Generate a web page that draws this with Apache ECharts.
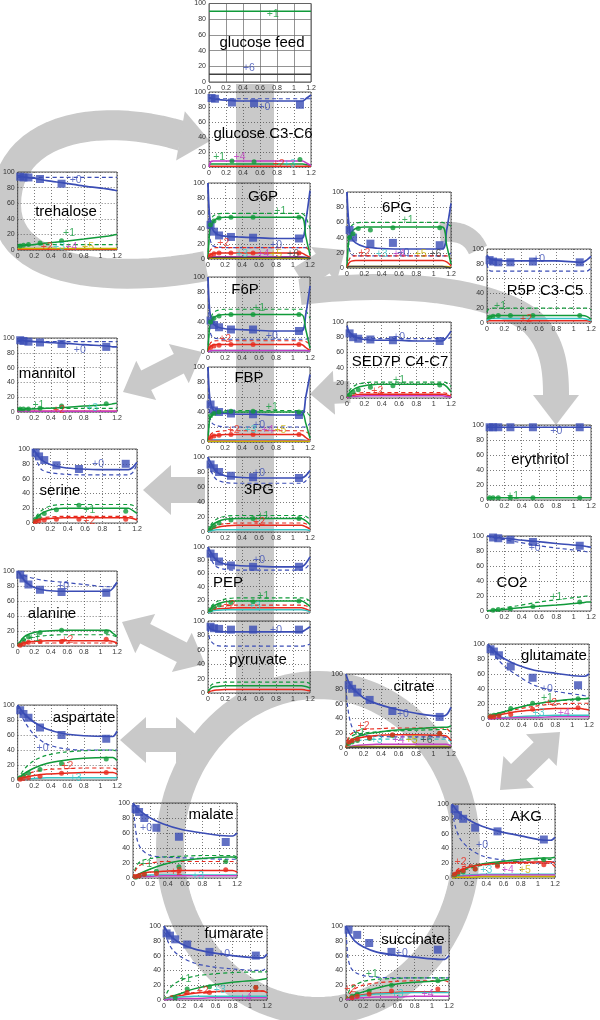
<!DOCTYPE html>
<html><head><meta charset="utf-8">
<script src="https://cdn.jsdelivr.net/npm/echarts@6/dist/echarts.min.js"></script>
<style>html,body{margin:0;padding:0;background:#fff}#c{width:600px;height:1020px}</style>
</head><body><div id="c"></div><script>
// shared x positions of model curves and measured points (hours)
const LX = [0,0.02,0.05,0.1,0.2,0.35,0.55,0.8,1.1,1.15,1.2];
const PX = [0.03,0.07,0.13,0.27,0.53,1.07];
const X_TICKS = [0,0.2,0.4,0.6,0.8,1,1.2];
const Y_TICKS = [0,20,40,60,80,100];
const COLORS = ['#3b4db5','#109a3a','#e8291c','#38c4c4','#c33cc3','#c8b000','#404040'];
const N = null;

// ---- glucose feed
const GF_solid = [N,[90,90,90,90,90,90,90,90,90,90,90],N,N,N,N,[10,10,10,10,10,10,10,10,10,10,10]];
const GF_dash = [];
const GF_pts = [];
const GF_labels = [[0.75,86,'+1',1],[0.47,18,'+6',0]];
// ---- glucose C3-C6
const GC_solid = [[93,92,91,90,89,88,88,88,88,92,96],[3,4,4,4,4,4,4,4,4,3,2],[1,1,1,1,1,1,1,1,1,1,1],N,[0,7,8,8,8,8,8,8,8,5,2]];
const GC_dash = [[91,91,91,91,91,91,91,91,91,91,91]];
const GC_pts = [[92,91,N,86,85,83],[N,N,N,8,7,10]];
const GC_labels = [[0.65,80,'+0',0],[0.12,13,'+1',1],[0.36,13,'+4',4],[0.82,4,'+2',2],[0.95,4,'+3',3]];
// ---- G6P
const G6P_solid = [[100,55,40,33,30,29,28,27,27,50,90],[0,35,47,53,55,55,55,55,55,30,5],[0,5,7,8,8,8,8,8,8,5,2],[0,2,3,3,3,3,3,3,3,2,1],[0,2,3,3,3,3,3,3,3,2,1],[0,1,1,1,1,1,1,1,1,1,1],[0,2,2,2,2,2,2,2,2,2,1]];
const G6P_dash = [[100,30,18,16,15,15,15,15,15,15,20],[0,40,55,59,60,60,60,60,60,55,40],[0,10,14,15,15,15,15,15,15,15,10]];
const G6P_pts = [[45,36,31,29,28,27],[45,50,54,55,55,55],[5,7,8,8,8,8]];
const G6P_labels = [[0.85,63,'+1',1],[0.8,18,'+0',0],[0.18,21,'+2',2],[0.4,6,'+3',3],[0.65,6,'+4',4],[0.8,6,'+5',5],[1.0,6,'+6',6]];
// ---- trehalose
const TR_solid = [[95,95,94,93,92,89,86,82,78,77,76],[5,5,6,6,7,9,11,14,18,19,20],[1,1,1,1,1,1,1,1,1,1,1],N,N,[2,2,2,2,2,2,2,2,2,2,2]];
const TR_dash = [[93,93,93,93,93,93,93,93,93,93,93],[7,7,7,7,7,7,7,7,7,7,7]];
const TR_pts = [[94,93,93,91,85,N],[5,6,7,9,12,N]];
const TR_labels = [[0.7,90,'+0',0],[0.62,22,'+1',1],[0.35,4,'+2',2],[0.5,4,'+3',3],[0.65,4,'+4',4],[0.85,4,'+5',5]];
// ---- 6PG
const PG6_solid = [[100,60,40,33,28,26,25,25,25,50,85],[0,35,47,52,54,54,54,54,54,30,5],[0,6,9,10,10,10,10,10,10,8,3],N,N,[0,2,2,2,2,2,2,2,2,2,1],[0,2,2,2,2,2,2,2,2,1,0]];
const PG6_dash = [[100,30,18,16,16,16,16,16,16,16,20],[0,45,55,59,60,60,60,60,60,58,55],[0,10,15,16,16,16,16,16,16,16,12]];
const PG6_pts = [[50,40,N,32,33,30],[40,45,52,50,53,53]];
const PG6_labels = [[0.7,63,'+1',1],[0.65,19,'+0',0],[0.2,20,'+2',2],[0.4,18,'+3',3],[0.6,18,'+4',4],[0.85,18,'+5',5],[1.02,18,'+6',6]];
// ---- R5P C3-C5
const R5P_solid = [[92,88,86,85,84,84,84,84,82,85,90],[5,8,9,10,10,10,10,10,10,9,5],[2,3,3,3,3,3,3,3,3,3,2],[3,5,6,6,6,6,6,6,6,5,3]];
const R5P_dash = [[80,72,70,70,70,70,70,70,70,70,74],[15,19,20,20,20,20,20,20,20,20,18]];
const R5P_pts = [[85,83,82,82,83,82],[8,9,10,10,10,10]];
const R5P_labels = [[0.6,86,'+0',0],[0.15,23,'+1',1],[0.45,5,'+2',2]];
// ---- F6P
const F6P_solid = [[100,55,40,34,31,30,29,28,28,50,88],[0,33,44,48,50,50,50,50,50,30,5],[0,6,9,10,10,10,10,10,10,6,2],[0,1,2,2,2,2,2,2,2,2,1],[0,1,2,2,2,2,2,2,2,2,1]];
const F6P_dash = [[100,30,20,18,17,17,17,17,17,17,20],[0,38,50,55,57,57,57,57,57,55,45],[0,10,14,15,15,15,15,15,15,14,10]];
const F6P_pts = [[42,36,33,30,30,28],[40,45,48,50,50,50],[6,8,9,10,10,10]];
const F6P_labels = [[0.6,58,'+1',1],[0.75,21,'+0',0],[0.2,17,'+2',2]];
// ---- SED7P C4-C7
const SED_solid = [[95,88,84,80,77,76,76,75,75,80,88],[0,5,9,13,16,18,18,18,18,15,8],[0,2,3,4,5,5,5,5,5,4,2],N,[0,1,2,2,3,3,3,3,3,2,1]];
const SED_dash = [[90,85,82,80,79,78,78,78,78,78,80],[0,8,13,17,20,21,21,21,21,20,15],[0,3,5,6,7,7,7,7,7,6,4]];
const SED_pts = [[85,80,78,77,76,75],[4,8,11,14,16,17]];
const SED_labels = [[0.6,80,'+0',0],[0.6,24,'+1',1],[0.35,9,'+2',2]];
// ---- mannitol
const MAN_solid = [[97,97,97,96,95,94,93,91,89,88,88],[3,3,3,4,4,5,6,8,10,11,12],[1,1,1,1,1,1,1,1,1,1,1],N,[1,1,1,1,1,1,1,1,1,1,1]];
const MAN_dash = [[95,95,95,95,95,95,95,95,95,95,95],[5,5,5,5,5,5,5,5,5,5,5]];
const MAN_pts = [[97,96,95,94,92,88],[4,4,4,5,8,11]];
const MAN_labels = [[0.75,83,'+0',0],[0.25,9,'+1',1],[0.5,2,'+2',2],[0.9,5,'+3',3]];
// ---- FBP
const FBP_solid = [[100,60,45,40,38,37,37,36,36,60,90],[0,30,36,38,40,40,40,40,40,25,5],[0,5,8,9,10,10,10,10,10,6,2],[0,2,3,3,3,3,3,3,3,2,1],[0,1,2,2,2,2,2,2,2,2,1],[0,1,1,1,1,1,1,1,1,1,1]];
const FBP_dash = [[100,35,25,22,20,20,20,20,20,20,25],[0,32,38,41,42,42,42,42,42,40,35],[0,8,12,14,15,15,15,15,15,14,10]];
const FBP_pts = [[50,42,40,38,37,36],[35,38,40,41,41,40],[6,8,9,10,10,10]];
const FBP_labels = [[0.75,46,'+1',1],[0.6,23,'+0',0],[0.3,16,'+2',2],[0.5,16,'+3',3],[0.7,16,'+4',4],[0.85,16,'+5',5]];
// ---- erythritol
const ERY_solid = [[98,97,97,97,97,97,97,97,97,97,97],[2,3,3,3,3,3,3,3,3,3,3]];
const ERY_dash = [[97,97,97,97,97,97,97,97,97,97,97]];
const ERY_pts = [[97,97,97,97,97,97],[3,3,3,3,3,3]];
const ERY_labels = [[0.8,92,'+0',0],[0.3,5,'+1',1]];
// ---- serine
const SER_solid = [[100,97,92,85,79,75,73,72,72,75,82],[0,3,8,13,18,20,20,20,20,17,13],[0,1,3,5,6,7,7,7,7,6,4]];
const SER_dash = [[100,90,82,72,68,66,65,65,65,68,80],[0,5,11,17,23,25,25,25,25,24,20],[0,2,4,7,8,9,9,9,9,8,6]];
const SER_pts = [[95,90,85,78,73,80],[5,8,13,18,24,16],[2,3,4,5,5,5]];
const SER_labels = [[0.75,80,'+0',0],[0.65,17,'+1',1],[0.65,3,'+2',2]];
// ---- 3PG
const PG3_solid = [[100,95,88,80,75,73,72,72,72,75,82],[0,4,9,13,17,18,18,18,18,15,10],[0,2,4,6,8,9,9,9,9,7,4],[0,1,2,3,3,3,3,3,3,3,2]];
const PG3_dash = [[100,88,78,70,66,65,65,65,65,68,75],[0,6,12,17,21,22,22,22,22,21,17],[0,3,6,9,11,12,12,12,12,11,8]];
const PG3_pts = [[90,85,80,75,73,72],[5,8,12,16,18,18]];
const PG3_labels = [[0.6,78,'+0',0],[0.65,21,'+1',1],[0.6,13,'+2',2]];
// ---- CO2
const CO2_solid = [[100,100,99,98,97,95,93,90,87,86,85],[0,0,1,1,2,4,6,8,11,12,12]];
const CO2_dash = [[100,99,98,97,95,92,88,84,80,79,78],[0,1,1,2,4,7,11,15,19,20,20]];
const CO2_pts = [[N,98,97,95,92,87],[N,1,2,3,6,12]];
const CO2_labels = [[0.55,84,'+0',0],[0.8,18,'+1',1]];
// ---- PEP
const PEP_solid = [[100,95,88,80,74,72,71,70,70,75,85],[0,4,9,13,17,18,18,18,18,15,10],[0,2,4,6,7,8,8,8,8,6,3],[0,1,3,4,5,5,5,5,5,4,2]];
const PEP_dash = [[100,88,78,70,66,65,65,65,65,68,75],[0,6,12,17,21,23,23,23,23,22,18],[0,3,6,9,11,12,12,12,12,11,8]];
const PEP_pts = [[90,85,78,72,70,70],[5,9,12,16,17,18]];
const PEP_labels = [[0.6,80,'+0',0],[0.65,25,'+1',1],[0.25,12,'+2',2],[0.55,10,'+3',3]];
// ---- pyruvate
const PYR_solid = [[95,90,88,86,85,85,85,85,85,88,92],[0,5,8,9,10,10,10,10,10,9,7],[0,2,3,4,5,5,5,5,5,4,3]];
const PYR_dash = [[90,75,70,66,65,65,65,65,65,66,68],[0,8,12,14,15,15,15,15,15,15,13]];
const PYR_pts = [[92,90,89,88,88,88]];
const PYR_labels = [[0.8,88,'+0',0]];
// ---- alanine
const ALA_solid = [[100,97,92,85,78,74,73,73,73,77,85],[0,4,9,14,18,20,21,21,21,17,13],[0,2,3,5,6,7,7,7,7,6,4]];
const ALA_dash = [[100,98,96,93,90,87,85,82,79,79,85],[0,3,6,9,12,14,15,15,15,14,12],[0,1,2,3,4,4,4,4,4,4,3]];
const ALA_pts = [[95,90,82,75,72,71],[3,8,12,18,21,19],[1,3,5,6,6,9]];
const ALA_labels = [[0.55,80,'+0',0],[0.2,10,'+1',1],[0.6,8,'+2',2]];
// ---- citrate
const CIT_solid = [[100,92,85,78,68,60,53,47,43,45,55],[0,6,10,14,18,21,24,26,28,28,30],[0,5,8,12,15,17,18,18,17,16,10],N,[0,1,2,3,4,5,5,5,5,5,3],[0,1,1,2,2,2,2,2,2,2,1],[0,0,1,1,1,1,1,1,1,1,1]];
const CIT_dash = [[80,55,35,22,17,16,15,15,15,14,10],[0,10,15,18,20,22,23,24,25,25,22],[0,12,18,22,25,26,27,27,27,26,20],[0,3,6,9,11,12,12,12,12,12,8]];
const CIT_pts = [[85,80,75,65,50,42],[6,8,10,13,17,20],[8,10,12,14,18,20]];
const CIT_labels = [[0.65,46,'+0',0],[0.15,20,'+1',1],[0.2,29,'+2',2],[0.35,10,'+3',3],[0.6,10,'+4',4],[0.75,10,'+5',5],[0.92,10,'+6',6]];
// ---- glutamate
const GLU_solid = [[100,97,94,88,80,72,65,61,57,57,60],[3,4,5,7,10,15,20,24,27,27,28],[2,3,3,5,7,10,12,14,14,13,12],[0,1,1,1,2,3,4,5,5,5,5],[0,0,0,1,1,2,2,3,3,3,3]];
const GLU_dash = [[100,96,90,82,70,58,45,37,32,31,30],[3,4,5,7,10,15,20,24,26,27,27],[2,3,4,6,9,13,17,20,21,21,21]];
const GLU_pts = [[93,90,85,70,55,45],[4,5,6,14,21,27],[3,3,4,6,13,15]];
const GLU_labels = [[0.7,40,'+0',0],[0.7,28,'+1',1],[0.75,21,'+2',2],[0.6,8,'+3',3],[0.9,8,'+4',4]];
// ---- aspartate
const ASP_solid = [[100,97,92,86,77,68,62,59,58,58,65],[0,3,6,10,16,22,26,29,30,30,26],[0,1,2,4,6,8,9,10,10,10,8],[0,0,1,1,2,3,3,3,3,3,3]];
const ASP_dash = [[100,92,85,75,60,48,42,40,40,40,40],[0,5,10,17,26,33,37,39,40,40,38],[0,2,4,7,11,14,15,16,16,16,14]];
const ASP_pts = [[93,88,83,70,60,55],[3,6,9,14,22,28],[1,2,3,5,9,10]];
const ASP_labels = [[0.3,43,'+0',0],[0.6,18,'+2',2],[0.7,2,'+3',3]];
// ---- malate
const MAL_solid = [[100,97,93,88,80,72,65,60,56,56,60],[0,2,4,7,12,18,23,26,28,28,26],[0,2,4,6,8,9,10,10,10,10,8],[0,1,2,3,4,4,4,4,4,4,4],[0,1,1,2,2,3,3,3,3,3,3]];
const MAL_dash = [[100,75,50,38,30,28,27,26,25,25,25],[0,10,18,23,26,28,29,30,30,30,28],[0,8,14,18,20,22,22,22,22,22,20]];
const MAL_pts = [[92,88,80,67,55,48],[1,3,5,9,15,22],[2,3,5,6,9,11]];
const MAL_labels = [[0.15,66,'+0',0],[0.15,18,'+1',1],[0.5,8,'+2',2],[0.75,3,'+3',3]];
// ---- AKG
const AKG_solid = [[100,97,92,86,78,70,63,57,51,51,55],[3,5,7,10,15,19,22,25,27,27,28],[2,5,8,11,15,18,20,21,22,22,20],[0,1,2,3,4,5,5,5,5,5,5],[0,1,1,2,3,4,4,4,4,4,4],[0,0,1,1,1,2,2,2,2,2,2]];
const AKG_dash = [[100,80,65,52,40,30,25,22,20,20,25],[3,5,7,9,13,17,20,23,25,25,25],[2,6,10,14,17,19,20,20,20,20,15]];
const AKG_pts = [[93,85,80,68,63,52],[4,6,8,12,18,25],[5,8,10,12,16,18]];
const AKG_labels = [[0.35,45,'+0',0],[0.1,22,'+2',2],[0.4,10,'+3',3],[0.65,10,'+4',4],[0.85,10,'+5',5]];
// ---- fumarate
const FUM_solid = [[100,96,90,84,76,69,64,60,57,57,62],[0,1,3,5,9,15,20,24,27,28,29],[0,1,2,4,6,9,11,12,12,12,10],[0,1,2,3,4,5,5,5,5,5,5],[0,0,1,1,2,2,3,3,3,3,3]];
const FUM_dash = [[100,90,78,68,58,50,45,42,40,40,45],[0,6,13,20,27,32,35,37,38,38,38],[0,2,4,6,8,10,11,12,12,12,12]];
const FUM_pts = [[90,87,82,75,65,60],[N,N,3,15,18,17],[N,N,N,10,10,17]];
const FUM_labels = [[0.7,62,'+0',0],[0.25,28,'+1',1],[0.45,12,'+2',2],[0.65,13,'+3',3],[0.95,3,'+4',4]];
// ---- succinate
const SUC_solid = [[100,95,88,80,72,65,61,58,55,55,60],[0,2,4,7,11,16,21,24,26,27,28],[0,1,3,5,7,9,10,11,11,11,10],[0,1,2,4,6,8,9,10,10,10,10],[0,1,1,2,3,4,4,5,5,5,5]];
const SUC_dash = [[100,60,45,38,33,31,30,30,30,30,30],[0,8,15,20,25,28,29,30,30,30,30],[0,5,10,15,20,23,25,26,26,26,24]];
const SUC_pts = [[95,N,88,77,65,68],[N,5,8,12,20,26],[N,3,5,8,12,15]];
const SUC_labels = [[0.65,63,'+0',0],[0.3,35,'+1',1],[0.05,15,'+2',2],[0.6,8,'+3',3],[0.95,8,'+4',4]];

// layout: [title, data..., left, top, width, height, titleX, titleY, solidGrid, hideXLabels]
const PANELS = [
 ['glucose feed', GF_solid,GF_dash,GF_pts,GF_labels, 209,3,102,79, 262,43, true],
 ['glucose C3-C6', GC_solid,GC_dash,GC_pts,GC_labels, 209,92,102,75, 263,134],
 ['G6P', G6P_solid,G6P_dash,G6P_pts,G6P_labels, 208,183,102,76, 263,197],
 ['F6P', F6P_solid,F6P_dash,F6P_pts,F6P_labels, 208,277,102,75, 245,290],
 ['FBP', FBP_solid,FBP_dash,FBP_pts,FBP_labels, 208,367,102,75, 249,378],
 ['3PG', PG3_solid,PG3_dash,PG3_pts,PG3_labels, 208,457,102,75, 259,490],
 ['PEP', PEP_solid,PEP_dash,PEP_pts,PEP_labels, 208,547,102,66, 228,583, false, true],
 ['pyruvate', PYR_solid,PYR_dash,PYR_pts,PYR_labels, 208,621,102,72, 258,660],
 ['trehalose', TR_solid,TR_dash,TR_pts,TR_labels, 13,172,104,78, 66,212],
 ['mannitol', MAN_solid,MAN_dash,MAN_pts,MAN_labels, 13,338,104,74, 47,374],
 ['serine', SER_solid,SER_dash,SER_pts,SER_labels, 33,449,104,74, 60,491],
 ['alanine', ALA_solid,ALA_dash,ALA_pts,ALA_labels, 13,571,104,75, 52,614],
 ['aspartate', ASP_solid,ASP_dash,ASP_pts,ASP_labels, 13,705,104,75, 84,718],
 ['malate', MAL_solid,MAL_dash,MAL_pts,MAL_labels, 133,803,104,75, 211,815],
 ['fumarate', FUM_solid,FUM_dash,FUM_pts,FUM_labels, 164,926,103,74, 234,934],
 ['succinate', SUC_solid,SUC_dash,SUC_pts,SUC_labels, 346,926,103,74, 413,940],
 ['citrate', CIT_solid,CIT_dash,CIT_pts,CIT_labels, 346,674,105,74, 414,687],
 ['glutamate', GLU_solid,GLU_dash,GLU_pts,GLU_labels, 488,644,101,75, 554,656],
 ['AKG', AKG_solid,AKG_dash,AKG_pts,AKG_labels, 452,804,103,74, 526,817],
 ['6PG', PG6_solid,PG6_dash,PG6_pts,PG6_labels, 347,192,104,76, 397,208],
 ['R5P C3-C5', R5P_solid,R5P_dash,R5P_pts,R5P_labels, 487,249,104,74, 545,291],
 ['SED7P C4-C7', SED_solid,SED_dash,SED_pts,SED_labels, 347,322,104,76, 400,362],
 ['erythritol', ERY_solid,ERY_dash,ERY_pts,ERY_labels, 487,425,104,75, 540,460],
 ['CO2', CO2_solid,CO2_dash,CO2_pts,CO2_labels, 487,536,104,75, 512,583]
];

const GRAY = '#c9c9c9';
const FONT = 'Liberation Sans';
const grid=[], xAxis=[], yAxis=[], series=[], graphic=[];

PANELS.forEach((p,i)=>{
  const [title,solid,dash,pts,labels,l,t,w,h,tx,ty,solidGrid,hideX] = p;
  grid.push({left:l,top:t,width:w,height:h,show:true,borderColor:'#333',borderWidth:0.8,backgroundColor:'transparent'});
  const split = {show:true,lineStyle:{color:solidGrid?'#666':'#444',width:0.7,type:solidGrid?'solid':[1,2]}};
  xAxis.push({gridIndex:i,type:'value',min:X_TICKS[0],max:X_TICKS[X_TICKS.length-1],interval:X_TICKS[1]-X_TICKS[0],
    axisLine:{show:false},axisTick:{show:false},splitLine:split,
    axisLabel:{show:!hideX,fontSize:7,color:'#333',margin:3,fontFamily:FONT,showMinLabel:true,showMaxLabel:true}});
  yAxis.push({gridIndex:i,type:'value',min:Y_TICKS[0],max:Y_TICKS[Y_TICKS.length-1],interval:Y_TICKS[1]-Y_TICKS[0],
    axisLine:{show:false},axisTick:{show:false},splitLine:split,
    axisLabel:{fontSize:7,color:'#333',margin:3,fontFamily:FONT}});
  const mk = arr => LX.map((x,j)=>[x,arr[j]]);
  (dash||[]).forEach((arr,k)=>{ if(!arr) return;
    series.push({type:'line',xAxisIndex:i,yAxisIndex:i,data:mk(arr),showSymbol:false,symbol:'none',smooth:0.3,
      lineStyle:{color:COLORS[k],width:1.2,type:[4,3]},z:2,silent:true});
  });
  (solid||[]).forEach((arr,k)=>{ if(!arr) return;
    series.push({type:'line',xAxisIndex:i,yAxisIndex:i,data:mk(arr),showSymbol:false,symbol:'none',smooth:0.3,
      lineStyle:{color:COLORS[k],width:k===0?1.7:1.5},z:3,silent:true});
  });
  (pts||[]).forEach((arr,k)=>{ if(!arr) return;
    series.push({type:'scatter',xAxisIndex:i,yAxisIndex:i,data:PX.map((x,j)=>[x,arr[j]]).filter(d=>d[1]!==null),
      symbol:k===0?'rect':'circle',symbolSize:k===0?8:5,itemStyle:{color:COLORS[k]},z:4,silent:true});
  });
  series.push({type:'scatter',xAxisIndex:i,yAxisIndex:i,symbolSize:2,itemStyle:{color:'rgba(0,0,0,0)'},silent:true,z:5,
    data:labels.map(d=>({value:[d[0],d[1]],label:{show:true,formatter:d[2],color:COLORS[d[3]],position:'inside',fontSize:10.5,fontFamily:FONT}}))});
  graphic.push({type:'text',x:tx,y:ty,z:100,style:{text:title,font:'15px "Liberation Sans"',fill:'#000',align:'center',verticalAlign:'middle',textAlign:'center',textVerticalAlign:'middle'}});
});

// ---- gray flux arrows (decoration)
function arrow(x1,y1,x2,y2,sw,hw,hl,dbl){
  const dx=x2-x1, dy=y2-y1, L=Math.hypot(dx,dy), ux=dx/L, uy=dy/L, nx=-uy, ny=ux;
  const P=(s,o)=>[x1+ux*s+nx*o, y1+uy*s+ny*o];
  const pts=[];
  if(dbl) pts.push(P(0,0),P(hl,hw/2),P(hl,sw/2)); else pts.push(P(0,sw/2));
  pts.push(P(L-hl,sw/2),P(L-hl,hw/2),P(L,0),P(L-hl,-hw/2),P(L-hl,-sw/2));
  if(dbl) pts.push(P(hl,-sw/2),P(hl,-hw/2)); else pts.push(P(0,-sw/2));
  return {type:'polygon',shape:{points:pts},style:{fill:GRAY},z:-10,silent:true};
}
// cubic bezier chains sampled into a thick polyline: segs = [[x0,y0],[c1x,c1y,c2x,c2y,x,y],...]
function band(segs,w){
  const pts=[segs[0]]; let [px,py]=segs[0];
  for(let s=1;s<segs.length;s++){
    const [a,b,c,d,x,y]=segs[s];
    for(let k=1;k<=24;k++){const t=k/24,u=1-t;
      pts.push([u*u*u*px+3*u*u*t*a+3*u*t*t*c+t*t*t*x, u*u*u*py+3*u*u*t*b+3*u*t*t*d+t*t*t*y]);}
    px=x;py=y;
  }
  return {type:'polyline',shape:{points:pts},style:{fill:null,stroke:GRAY,lineWidth:w,lineCap:'butt',lineJoin:'round'},z:-10,silent:true};
}
function head(x,y,ang,hw,hl){ // tip at x,y pointing in direction ang (deg)
  const a=ang*Math.PI/180, ux=Math.cos(a), uy=Math.sin(a), nx=-uy, ny=ux;
  return {type:'polygon',shape:{points:[[x,y],[x-ux*hl+nx*hw/2,y-uy*hl+ny*hw/2],[x-ux*hl-nx*hw/2,y-uy*hl-ny*hw/2]]},style:{fill:GRAY},z:-10,silent:true};
}
function ellipse(cx,cy,rx,ry,w){
  const pts=[]; for(let k=0;k<=120;k++){const a=k/120*2*Math.PI; pts.push([cx+rx*Math.cos(a),cy+ry*Math.sin(a)]);}
  return {type:'polyline',shape:{points:pts},style:{fill:null,stroke:GRAY,lineWidth:w,lineJoin:'round'},z:-10,silent:true};
}
const arrows = [
  {type:'rect',shape:{x:236,y:84,width:38,height:620},style:{fill:GRAY},z:-10,silent:true},
  band([[206,266],[120,283,6,276,6,205],[6,130,95,110,182,136]],30),
  head(210,141,10,50,30),
  band([[300,292],[380,282,480,285,530,320],[552,340,556,365,556,395]],26),
  head(556,425,90,46,30),
  band([[300,278],[308,273,316,268,325,262]],24),
  head(345,250,-35,44,26),
  band([[440,232],[455,231,470,232,478,250]],20),
  arrow(350,392,310,394,22,44,24,false),
  arrow(205,490,143,490,26,50,28,false),
  arrow(202,352,123,392,22,44,26,true),
  arrow(122,622,205,664,22,44,26,true),
  arrow(120,740,202,740,24,46,26,true),
  arrow(500,790,560,732,22,44,26,true),
  ellipse(318,848,148,163,28)
];
arrows.forEach(a=>graphic.push(a));

const chart = echarts.init(document.getElementById('c'),null,{renderer:'canvas'});
chart.setOption({animation:false,backgroundColor:'#fff',grid,xAxis,yAxis,series,graphic});
</script></body></html>
